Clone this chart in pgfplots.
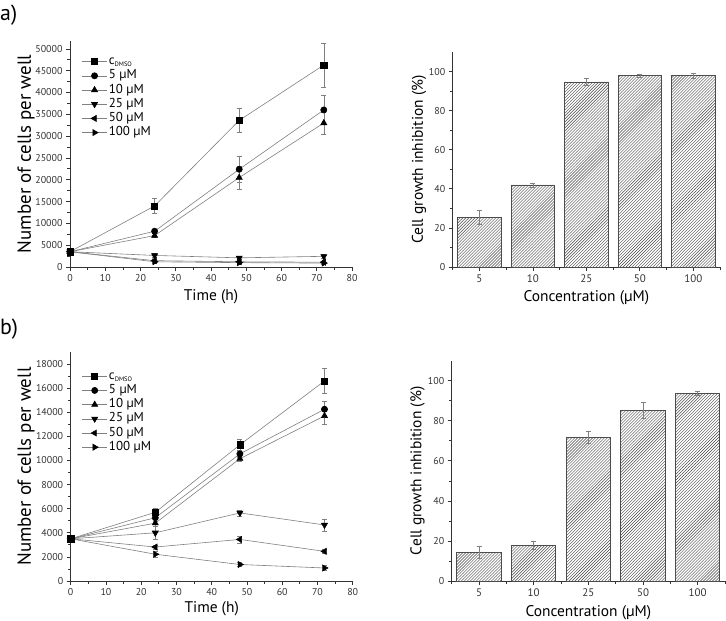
\documentclass[border=0pt]{standalone}
\usepackage{fontspec}
\setmainfont{PT Sans}
\usepackage{pgfplots}
\pgfplotsset{compat=1.18}
\usepackage{pgfplotstable}
\usetikzlibrary{patterns}

\definecolor{axisgray}{gray}{0.2}
\definecolor{linegray}{gray}{0.5}
\definecolor{errgray}{gray}{0.5}
\definecolor{bargray}{gray}{0.3}

% growth curves, mean and error of each concentration (cells per well)
\pgfplotstableread{
t  dmso  dmsoE c5    c5E  c10   c10E c25  c25E c50  c50E c100 c100E
0  3500  300   3500  300  3500  300  3500 300  3500 300  3500 300
24 14000 1650  8200  500  7200  500  2650 400  1450 300  1200 300
48 33600 2700  22400 2900 20500 2600 2100 400  1200 300  1000 300
72 46300 5050  36000 3300 33000 2500 2450 400  1100 300  900  200
}\growthA
\pgfplotstableread{
t  dmso  dmsoE c5    c5E  c10   c10E c25  c25E c50  c50E c100 c100E
0  3500  150   3500  150  3500  150  3500 150  3500 150  3500 150
24 5700  300   5250  300  4800  300  4000 500  2820 150  2220 250
48 11300 450   10550 300  10150 200  5650 250  3450 300  1370 150
72 16600 1050  14250 700  13700 700  4650 500  2460 150  1080 200
}\growthB
% growth inhibition (%)
\pgfplotstableread{
x y    e
1 25.5 3.5
2 42.0 1.0
3 94.7 1.7
4 97.9 0.6
5 97.8 1.5
}\inhibA
\pgfplotstableread{
x y    e
1 14.2 3.0
2 17.7 2.0
3 71.9 3.0
4 85.2 4.0
5 93.6 1.0
}\inhibB

\newcommand\legfont{\fontsize{13}{14}\selectfont}

\pgfplotsset{
  panel/.style={
    scale only axis,
    axis x line*=bottom, axis y line*=left,
    axis line style={axisgray, line width=0.7bp, -},
    tick align=outside,
    major tick length=4bp, minor tick length=2.5bp,
    every tick/.style={axisgray, line width=0.7bp},
    tick label style={font=\fontsize{10}{11}\selectfont, text=axisgray},
    /pgf/number format/assume math mode=true,
    /pgf/number format/set thousands separator={},
    scaled ticks=false,
    ymin=0,
    xlabel style={anchor=center},
    ylabel style={anchor=center},
  },
  growth/.style={panel,
    xmin=0, xmax=80, xtick={0,10,...,80},
    minor x tick num=1, minor y tick num=1,
    xlabel={Time (h)}, ylabel={Number of cells per well},
    xlabel style={font=\fontsize{15.5}{17}\selectfont},
    ylabel style={font=\fontsize{19}{21}\selectfont},
    legend cell align=left,
    legend style={draw=none, fill=none, inner xsep=0pt, inner ysep=0pt,
      anchor=north west, font=\legfont,
      nodes={font=\legfont, inner sep=1.5bp, text height=8.5bp, text depth=2.2bp},
      row sep=0.5bp},
    legend image code/.code={\draw[mark repeat=2, mark phase=2, ##1]
      plot coordinates {(0bp,0bp) (12.5bp,0bp) (25bp,0bp)};},
    every axis plot/.append style={linegray, line width=0.6bp},
    error bars/y dir=both, error bars/y explicit,
    error bars/error bar style={errgray, line width=0.6bp},
    error bars/error mark options={rotate=90, errgray, mark size=2.5bp, line width=0.6bp},
  },
  inhib/.style={panel, ybar, bar width=0.81,
    xmin=0.5, xmax=5.5, ymax=110,
    xtick={1,...,5}, xticklabels={5,10,25,50,100},
    minor xtick={0.5,1.5,...,5.5},
    ytick={0,20,...,100}, minor y tick num=1,
    xticklabel style={font=\fontsize{11}{12}\selectfont},
    xlabel={Concentration (µM)}, ylabel={Cell growth inhibition (\%)},
    label style={font=\fontsize{15.5}{17}\selectfont},
  },
  bars/.style={draw=bargray, line width=0.8bp,
    pattern=north east lines, pattern color=gray!55!black,
    error bars/.cd, y dir=both, y explicit,
    error bar style={errgray, line width=0.6bp},
    error mark options={rotate=90, errgray, mark size=2.5bp, line width=0.6bp}},
  mk/.style 2 args={mark=#1, mark size=#2, mark options={black, fill=black, solid}},
  mkr/.style 2 args={mark=#1, mark size=3.5bp, mark options={black, fill=black, solid, rotate=#2}},
}

\begin{document}
\begin{tikzpicture}
\path[use as bounding box] (0bp,0bp) rectangle (726bp,-621bp);
\node[anchor=base west, inner sep=0pt, font=\fontsize{22}{24}\selectfont] at (0bp,-20.5bp) {a)};
\node[anchor=base west, inner sep=0pt, font=\fontsize{22}{24}\selectfont] at (0bp,-334bp) {b)};

% a) growth curves
\begin{axis}[growth, at={(70bp,-267bp)}, anchor=south west,
  width=282bp, height=226bp, ymax=51800,
  ytick={0,5000,...,50000},
  xlabel style={at={(axis description cs:0.5,-0.133)}},
  ylabel style={at={(axis description cs:-0.156,0.5)}},
  legend style={at={(axis description cs:0.041,0.94)}}]
\addplot[mk={square*}{3.1bp}] table[x=t, y=dmso, y error=dmsoE] {\growthA};
\addplot[mk={*}{3.1bp}] table[x=t, y=c5, y error=c5E] {\growthA};
\addplot[mk={triangle*}{3.5bp}] table[x=t, y=c10, y error=c10E] {\growthA};
\addplot[mkr={triangle*}{180}] table[x=t, y=c25, y error=c25E] {\growthA};
\addplot[mkr={triangle*}{90}] table[x=t, y=c50, y error=c50E] {\growthA};
\addplot[mkr={triangle*}{-90}] table[x=t, y=c100, y error=c100E] {\growthA};
\legend{c\textsubscript{\fontsize{6.5}{7}\selectfont DMSO}, 5 µM, 10 µM, 25 µM, 50 µM, 100 µM}
\end{axis}

% a) inhibition
\begin{axis}[inhib, at={(452.7bp,-267bp)}, anchor=south west,
  width=267.3bp, height=215bp,
  xlabel style={at={(axis description cs:0.5,-0.143)}},
  ylabel style={at={(axis description cs:-0.126,0.5)}}]
\addplot[bars] table[x=x, y=y, y error=e] {\inhibA};
\end{axis}

% b) growth curves
\begin{axis}[growth, at={(70.7bp,-581bp)}, anchor=south west,
  width=282bp, height=229bp, ymax=19000,
  ytick={0,2000,...,18000},
  xlabel style={at={(axis description cs:0.5,-0.122)}},
  ylabel style={at={(axis description cs:-0.158,0.5)}},
  legend style={at={(axis description cs:0.039,0.925)}}]
\addplot[mk={square*}{3.1bp}] table[x=t, y=dmso, y error=dmsoE] {\growthB};
\addplot[mk={*}{3.1bp}] table[x=t, y=c5, y error=c5E] {\growthB};
\addplot[mk={triangle*}{3.5bp}] table[x=t, y=c10, y error=c10E] {\growthB};
\addplot[mkr={triangle*}{180}] table[x=t, y=c25, y error=c25E] {\growthB};
\addplot[mkr={triangle*}{90}] table[x=t, y=c50, y error=c50E] {\growthB};
\addplot[mkr={triangle*}{-90}] table[x=t, y=c100, y error=c100E] {\growthB};
\legend{c\textsubscript{\fontsize{6.5}{7}\selectfont DMSO}, 5 µM, 10 µM, 25 µM, 50 µM, 100 µM}
\end{axis}

% b) inhibition
\begin{axis}[inhib, at={(451.7bp,-581bp)}, anchor=south west,
  width=273.3bp, height=220.3bp,
  xlabel style={at={(axis description cs:0.5,-0.144)}},
  ylabel style={at={(axis description cs:-0.125,0.5)}}]
\addplot[bars] table[x=x, y=y, y error=e] {\inhibB};
\end{axis}
\end{tikzpicture}
\end{document}
